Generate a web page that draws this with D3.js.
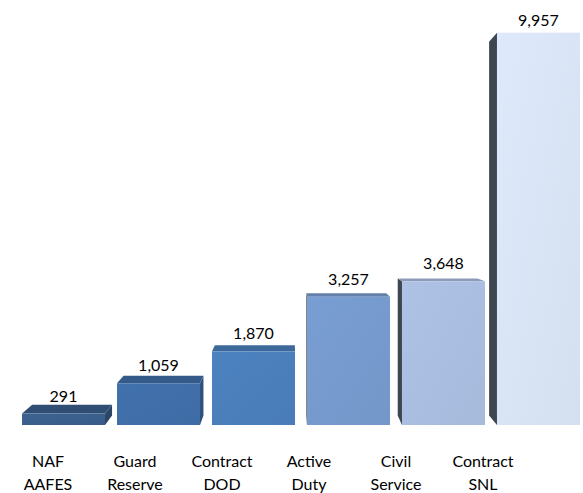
<!DOCTYPE html>
<html>
<head>
<meta charset="utf-8">
<script src="https://cdn.jsdelivr.net/npm/d3@7"></script>
<style>
  body { margin: 0; background: #fff; }
  text { font-family: Lato, "Open Sans", sans-serif; fill: #000; }
</style>
</head>
<body>
<svg id="chart" width="583" height="493"></svg>
<script>
// chart data
const categories = ["NAF\nAAFES", "Guard\nReserve", "Contract\nDOD", "Active\nDuty", "Civil\nService", "Contract\nSNL"];
const values = [291, 1059, 1870, 3257, 3648, 9957];
const barColors = ["#3a5f8c", "#3f6ea8", "#4a7ebb", "#769acd", "#a9bde0", "#d8e3f4"];

const svg = d3.select("#chart");

// scales
const x = d3.scaleBand().domain(categories).range([22, 580]).paddingInner(0.126).paddingOuter(0);
const xLabel = d3.scalePoint().domain(categories).range([48, 483]);
const y = d3.scaleLinear().domain([0, 10000]).range([425, 31]);

// simple perspective: back face is pulled toward a vanishing point
const vp = { x: 290, y: 224 }, kx = 0.038, ky = 0.047;
const back = ([px, py]) => [px + kx * (vp.x - px), py + ky * (vp.y - py)];

const defs = svg.append("defs");
const line = d3.line();

const bars = categories.map((c, i) => ({ cat: c, value: values[i], color: barColors[i], i }));

// light diagonal gradient on each front face
bars.forEach(d => {
  const grad = defs.append("linearGradient")
    .attr("id", "grad" + d.i)
    .attr("x1", 0).attr("y1", 0).attr("x2", 1).attr("y2", 1);
  grad.append("stop").attr("offset", "0%").attr("stop-color", d3.color(d.color).brighter(0.08));
  grad.append("stop").attr("offset", "100%").attr("stop-color", d3.color(d.color).darker(0.05));
});

const barG = svg.append("g");

bars.forEach(d => {
  const x0 = x(d.cat), x1 = x0 + x.bandwidth();
  const yt = y(d.value), yb = y(0);
  const TL = [x0, yt], TR = [x1, yt], BR = [x1, yb], BL = [x0, yb];
  const g = barG.append("g");

  // side faces
  if (x1 < vp.x) {
    g.append("path")
      .attr("d", line([TR, BR, back(BR), back(TR)]) + "Z")
      .attr("fill", d3.color(d.color).darker(0.9));
  }
  if (x0 > vp.x) {
    g.append("path")
      .attr("d", line([TL, BL, back(BL), back(TL)]) + "Z")
      .attr("fill", "#3e4650");
  }
  // top face
  if (yt > vp.y) {
    g.append("path")
      .attr("d", line([TL, TR, back(TR), back(TL)]) + "Z")
      .attr("fill", d3.color(d.color).darker(0.55));
  }
  // front face
  g.append("rect")
    .attr("x", x0).attr("y", yt)
    .attr("width", x.bandwidth()).attr("height", yb - yt)
    .attr("fill", `url(#grad${d.i})`);
});

// value labels
svg.append("g").selectAll("text")
  .data(bars)
  .join("text")
  .attr("x", d => x(d.cat) + x.bandwidth() / 2)
  .attr("y", d => Math.max(y(d.value) - 12, 26))
  .attr("text-anchor", "middle")
  .style("font-size", "16px")
  .text(d => d3.format(",")(d.value));

// category labels, two lines each
const catG = svg.append("g").selectAll("text")
  .data(categories)
  .join("text")
  .attr("x", d => xLabel(d))
  .attr("y", 467)
  .attr("text-anchor", "middle")
  .style("font-size", "16px");

catG.selectAll("tspan")
  .data(d => d.split("\n").map(t => ({ t, x: xLabel(d) })))
  .join("tspan")
  .attr("x", t => t.x)
  .attr("dy", (t, j) => j === 0 ? 0 : 23)
  .text(t => t.t);
</script>
</body>
</html>
